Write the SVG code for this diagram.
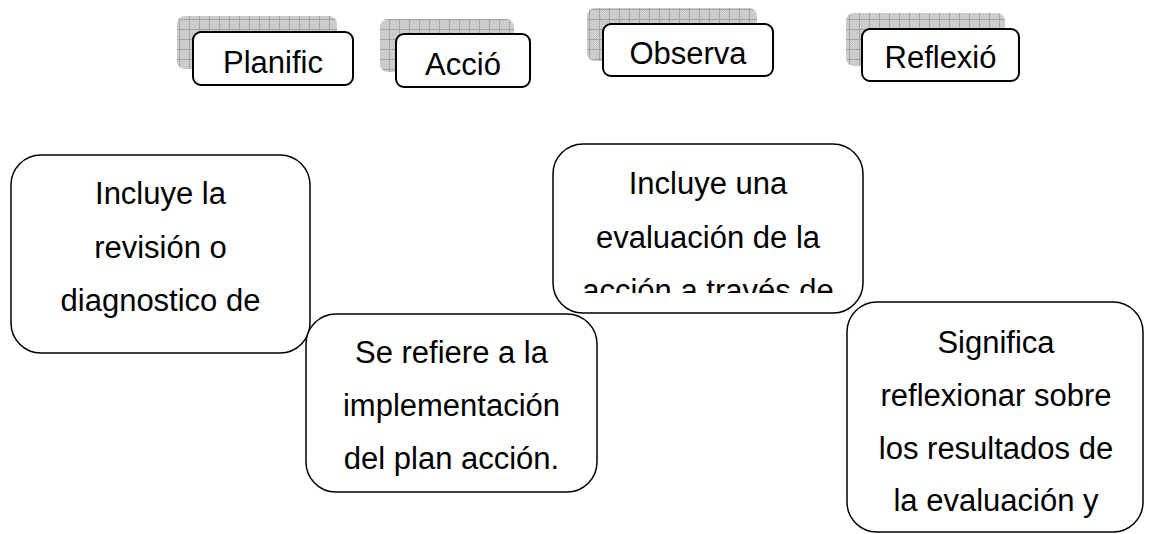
<svg xmlns="http://www.w3.org/2000/svg" width="1152" height="534" viewBox="0 0 1152 534">
<defs>
<pattern id="dots" width="2" height="2" patternUnits="userSpaceOnUse">
<rect width="2" height="2" fill="#d6d6d6"/>
<rect width="1" height="1" fill="#c2c2c2"/>
<rect x="1" y="1" width="1" height="1" fill="#c2c2c2"/>
</pattern>
<pattern id="grid" width="10" height="10" patternUnits="userSpaceOnUse">
<rect width="10" height="10" fill="url(#dots)"/>
<path d="M9.5 0V10M0 9.5H10" stroke="#a4a4a4" stroke-width="1" fill="none"/>
</pattern>
<clipPath id="c3"><rect x="553" y="144" width="310" height="149"/></clipPath>
</defs>
<style>
.sh{fill:url(#grid);}
.lb{fill:#fff;stroke:#000;stroke-width:2;}
.bx{fill:#fff;stroke:#000;stroke-width:1.5;}
text{font-family:"Liberation Sans",Arial,sans-serif;font-size:31px;fill:#000;text-anchor:middle;}
</style>
<g id="connectors"></g>
<g id="lbl-planific">
<rect class="sh" x="177" y="16" width="160" height="53" rx="8"/>
<rect class="lb" x="193" y="32" width="160" height="53" rx="8"/>
<text x="273" y="73">Planific</text>
</g>
<g id="lbl-accio">
<rect class="sh" x="380" y="19" width="134" height="53" rx="8"/>
<rect class="lb" x="396" y="34" width="134" height="53" rx="8"/>
<text x="463" y="75">Acció</text>
</g>
<g id="lbl-observa">
<rect class="sh" x="587" y="8" width="170" height="53" rx="8"/>
<rect class="lb" x="603" y="24" width="170" height="52" rx="8"/>
<text x="688" y="64">Observa</text>
</g>
<g id="lbl-reflexio">
<rect class="sh" x="846" y="13" width="159" height="53" rx="8"/>
<rect class="lb" x="862" y="29" width="157" height="52" rx="8"/>
<text x="940.5" y="68">Reflexió</text>
</g>
<g id="box-planificacion">
<rect class="bx" x="11" y="155" width="299" height="198" rx="30"/>
<text x="160.5" y="204">Incluye la</text>
<text x="160.5" y="258">revisión o</text>
<text x="160.5" y="311">diagnostico de</text>
</g>
<g id="box-accion">
<rect class="bx" x="306" y="314" width="291" height="178" rx="30"/>
<text x="451.5" y="363">Se refiere a la</text>
<text x="451.5" y="416">implementación</text>
<text x="451.5" y="469">del plan acción.</text>
</g>
<g id="box-observacion">
<rect class="bx" x="553" y="144" width="310" height="169" rx="30"/>
<g clip-path="url(#c3)">
<text x="708" y="194">Incluye una</text>
<text x="708" y="248">evaluación de la</text>
<text x="708" y="301">acción a través de</text>
</g>
</g>
<g id="box-reflexion">
<rect class="bx" x="847" y="302" width="296" height="230" rx="30"/>
<text x="996" y="353">Significa</text>
<text x="996" y="406">reflexionar sobre</text>
<text x="996" y="459">los resultados de</text>
<text x="996" y="511">la evaluación y</text>
</g>
</svg>
